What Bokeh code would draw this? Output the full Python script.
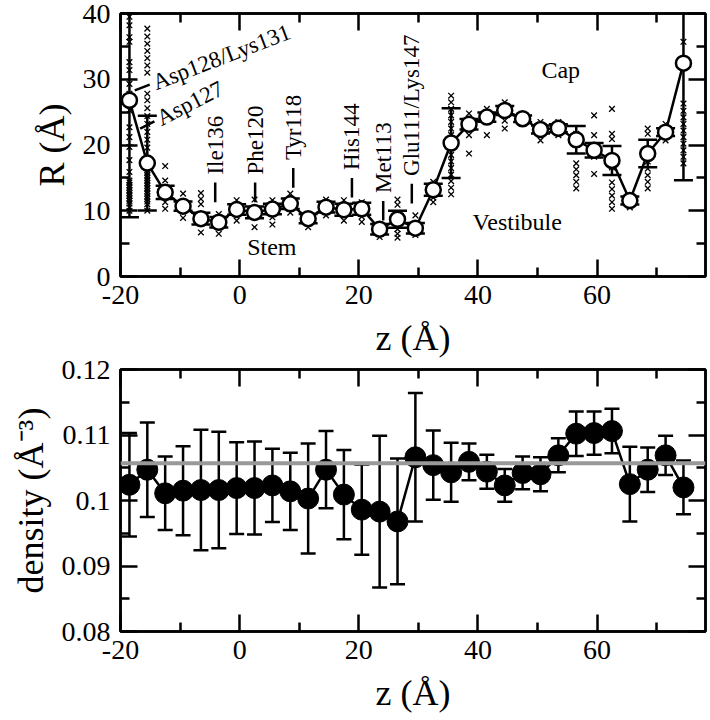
import math
from bokeh.plotting import figure
from bokeh.layouts import column
from bokeh.models import (LinearAxis, FixedTicker, CustomJSTickFormatter, Span,
                          Range1d, ColumnDataSource)
from bokeh.core.properties import value
from bokeh.embed import file_html
from bokeh.resources import INLINE

# ---------------- data ----------------
z = [-18.5, -15.5, -12.5, -9.5, -6.5, -3.5, -0.5, 2.5, 5.5, 8.5, 11.5, 14.5,
     17.5, 20.5, 23.5, 26.5, 29.5, 32.5, 35.5, 38.5, 41.5, 44.5, 47.5, 50.5,
     53.5, 56.5, 59.5, 62.5, 65.5, 68.5, 71.5, 74.5]

R_mean = [26.8, 17.25, 12.8, 10.7, 8.8, 8.25, 10.2, 9.75, 10.25, 11.05, 8.8, 10.55,
          10.15, 10.3, 7.2, 8.7, 7.35, 13.2, 20.3, 23.15, 24.25, 25.25, 24.0, 22.35,
          22.55, 20.8, 19.2, 17.65, 11.55, 18.7, 21.95, 32.45]

R_err = [17.8, 7.2, 1.0, 0.7, 0.9, 0.8, 0.8, 0.9, 0.8, 0.8, 0.7, 0.8,
         0.9, 0.9, 0.8, 1.3, 0.8, 0.9, 5.3, 0.8, 0.7, 0.7, 0.5, 0.6,
         0.6, 2.1, 1.1, 2.2, 0.6, 2.1, 0.6, 17.8]

# individual radius samples (x markers) per z bin
R_samples = [
    [10.0, 10.5, 11.1, 11.5, 11.9, 12.3, 12.7, 13.1, 13.5, 13.9, 14.3, 14.6, 15.9, 17.7,
     19.7, 21.2, 22.7, 25.3, 26.3, 27.8, 29.3, 31.4, 32.6, 35.7, 36.4, 38.2, 39.5],
    [10.0, 11.0, 11.4, 11.8, 12.2, 12.6, 13.0, 13.4, 13.8, 14.2, 14.6, 15.0, 15.4, 15.8,
     16.2, 16.6, 17.0, 18.0, 19.6, 20.8, 22.0, 23.2, 24.4, 25.6, 26.8, 27.8,
     31.0, 32.1, 33.2, 34.3, 35.4, 36.5, 37.7],
    [10.3, 11.3, 14.6, 16.8],
    [8.9, 9.9, 12.6],
    [6.7, 11.0, 11.8, 12.7],
    [6.5, 9.5],
    [8.5, 11.6],
    [7.5, 11.7],
    [7.9, 9.0, 11.6],
    [9.7, 12.6],
    [7.5, 9.5],
    [9.3, 11.7],
    [8.5, 11.6],
    [8.3, 9.1, 11.3],
    [6.0, 6.9],
    [5.9, 6.5, 7.2, 10.9, 11.7],
    [6.3, 9.3],
    [11.3, 12.0, 14.4],
    [12.5, 13.5, 14.5, 15.5, 16.5, 17.5, 18.5, 19.5, 20.5, 21.5, 22.5, 23.5, 24.5,
     25.5, 26.5, 27.5],
    [18.7, 21.5, 24.8],
    [21.5, 25.5],
    [22.5, 23.7, 26.5],
    [23.7],
    [20.7, 23.5],
    [21.5, 23.5],
    [13.4, 14.4, 15.4, 16.3, 17.2, 21.7],
    [15.6, 18.2, 21.5, 24.5],
    [10.3, 11.3, 12.3, 13.3, 14.3, 16.6, 20.9, 21.7, 25.5],
    [10.5],
    [13.4, 14.4, 15.4, 16.4, 17.5, 21.7, 22.5],
    [20.7, 23.2],
    [17.2, 18.2, 19.2, 20.2, 21.2, 22.2, 23.2, 24.2, 25.2, 26.3, 35.7],
]

density = [0.1024, 0.1047, 0.1011, 0.1015, 0.1016, 0.1016, 0.1019, 0.1019, 0.1023,
           0.1014, 0.1003, 0.1047, 0.1009, 0.0986, 0.0983, 0.0968, 0.1066, 0.1054,
           0.1043, 0.1059, 0.1044, 0.1023, 0.1042, 0.1040, 0.1069, 0.1102, 0.1103,
           0.1106, 0.1025, 0.1047, 0.1069, 0.1020]

density_err = [0.0079, 0.0072, 0.0056, 0.0068, 0.0092, 0.0089, 0.0070, 0.0071, 0.0056,
               0.0059, 0.0084, 0.0059, 0.0068, 0.0069, 0.0116, 0.0096, 0.0098, 0.0053,
               0.0045, 0.0028, 0.0026, 0.0025, 0.0025, 0.0026, 0.0026, 0.0034, 0.0033,
               0.0034, 0.0057, 0.0034, 0.0030, 0.0041]

density_bulk = 0.1057

residue_labels = ["Ile136", "Phe120", "Tyr118", "His144", "Met113", "Glu111/Lys147"]
pore_labels = ["Asp128/Lys131", "Asp127"]
region_labels = ["Cap", "Vestibule", "Stem"]
x_ticks = [-20, 0, 20, 40, 60]
x_minor = [-10, 10, 30, 50, 70]
R_ticks = [0, 10, 20, 30, 40]
R_minor = [5, 15, 25, 35]
d_ticks = [0.08, 0.09, 0.10, 0.11, 0.12]
d_minor = [0.085, 0.095, 0.105, 0.115]

# ---------------- styling helpers ----------------
SERIF = "Liberation Serif"
TICK_FS = "28px"
LABEL_FS = "36px"
LW = 2.5

fmt_num = CustomJSTickFormatter(code="return String(Math.round(tick*100)/100);")
fmt_none = CustomJSTickFormatter(code="return '';")


def style_axis(ax, ticks, minor, show_labels):
    ax.ticker = FixedTicker(ticks=ticks, minor_ticks=minor)
    ax.axis_line_color = "black"
    ax.axis_line_width = LW
    ax.major_tick_line_color = "black"
    ax.major_tick_line_width = LW
    ax.minor_tick_line_color = "black"
    ax.minor_tick_line_width = LW
    ax.major_tick_in = 17
    ax.major_tick_out = 0
    ax.minor_tick_in = 9
    ax.minor_tick_out = 0
    ax.major_label_text_font = SERIF
    ax.major_label_text_color = "black"
    ax.axis_label_text_font = SERIF
    ax.axis_label_text_font_style = "normal"
    ax.axis_label_text_font_size = LABEL_FS
    ax.axis_label_text_color = "black"
    if show_labels:
        ax.formatter = fmt_num
        ax.major_label_text_font_size = TICK_FS
    else:
        ax.formatter = fmt_none
        ax.major_label_text_font_size = "1px"
        ax.major_label_standoff = 0


def make_fig(y_range, height, top, bottom):
    p = figure(width=708, height=height, x_range=Range1d(-20, 78.2), y_range=y_range,
               output_backend="svg", toolbar_location=None,
               min_border_left=120, min_border_right=3,
               min_border_top=top, min_border_bottom=bottom)
    p.grid.visible = False
    p.outline_line_color = "black"
    p.outline_line_width = LW
    p.background_fill_color = "white"
    p.border_fill_color = "white"
    return p


# ---------------- top panel: radius ----------------
p1 = make_fig(Range1d(0, 40), 360, 13, 84)

xs_s, ys_s = [], []
for zi, vals in zip(z, R_samples):
    for v in vals:
        xs_s.append(zi)
        ys_s.append(v)
p1.scatter(xs_s, ys_s, marker="x", size=8, line_color="black", line_width=1.3)

lo = [m - e for m, e in zip(R_mean, R_err)]
hi = [m + e for m, e in zip(R_mean, R_err)]
p1.segment(x0=z, y0=lo, x1=z, y1=hi, line_color="black", line_width=LW)
p1.scatter(z, lo, marker="dash", size=19, line_color="black", line_width=LW)
p1.scatter(z, hi, marker="dash", size=19, line_color="black", line_width=LW)

p1.line(z, R_mean, line_color="black", line_width=LW)
p1.scatter(z, R_mean, marker="circle", size=15, fill_color="white",
           line_color="black", line_width=LW)

# residue labels (vertical) with leader dashes
lab_x = [-4.1, 2.6, 9.0, 18.85, 24.1, 28.9]
lab_y = [11.3, 11.3, 13.5, 12.0, 8.5, 11.1]
DASH_R = 3.0      # dash length in R units (~20 px)
GAP_R = 1.2
p1.segment(x0=lab_x, y0=lab_y, x1=lab_x, y1=[y + DASH_R for y in lab_y],
           line_color="black", line_width=LW)
p1.text(x=lab_x, y=[y + DASH_R + GAP_R for y in lab_y], text=residue_labels,
        angle=math.pi / 2, text_align="left", text_baseline="middle",
        text_font=value(SERIF), text_font_size="23px", text_color="black")

# slanted labels near the pore entrance
px_per_z = 584.5 / 98.2
px_per_R = 262.7 / 40.0
asp_x = [-17.6, -16.7]
asp_y = [28.3, 22.5]
asp_ang = [math.radians(21), math.radians(27)]
d_len = 16.0
x_end = [x + d_len * math.cos(a) / px_per_z for x, a in zip(asp_x, asp_ang)]
y_end = [y + d_len * math.sin(a) / px_per_R for y, a in zip(asp_y, asp_ang)]
p1.segment(x0=asp_x, y0=asp_y, x1=x_end, y1=y_end, line_color="black", line_width=LW)
x_txt = [x + (d_len + 4) * math.cos(a) / px_per_z for x, a in zip(asp_x, asp_ang)]
y_txt = [y + (d_len + 4) * math.sin(a) / px_per_R for y, a in zip(asp_y, asp_ang)]
p1.text(x=x_txt, y=y_txt, text=pore_labels, angle=asp_ang,
        text_align="left", text_baseline="middle", text_font=value(SERIF),
        text_font_size="23px", text_color="black")

p1.text(x=[53.9, 46.6, 5.4], y=[31.4, 8.3, 4.5], text=region_labels,
        text_align="center", text_baseline="middle", text_font=value(SERIF),
        text_font_size="24px", text_color="black")

style_axis(p1.xaxis[0], x_ticks, x_minor, True)
style_axis(p1.yaxis[0], R_ticks, R_minor, True)
p1.xaxis[0].axis_label = "z (Å)"
p1.yaxis[0].axis_label = "R (Å)"
p1.xaxis[0].major_label_standoff = 9
p1.xaxis[0].axis_label_standoff = 11
p1.yaxis[0].major_label_standoff = 10
p1.yaxis[0].axis_label_standoff = 8
ax_t = LinearAxis()
style_axis(ax_t, x_ticks, x_minor, False)
p1.add_layout(ax_t, "above")
ax_r = LinearAxis()
style_axis(ax_r, R_ticks, R_minor, False)
p1.add_layout(ax_r, "right")

# ---------------- bottom panel: density ----------------
p2 = make_fig(Range1d(0.08, 0.12), 360, 9, 89)

dlo = [m - e for m, e in zip(density, density_err)]
dhi = [m + e for m, e in zip(density, density_err)]
p2.segment(x0=z, y0=dlo, x1=z, y1=dhi, line_color="black", line_width=LW)
p2.scatter(z, dlo, marker="dash", size=15, line_color="black", line_width=LW)
p2.scatter(z, dhi, marker="dash", size=15, line_color="black", line_width=LW)
p2.line(z, density, line_color="black", line_width=LW)
p2.scatter(z, density, marker="circle", size=21, fill_color="black",
           line_color="black", line_width=1)
p2.add_layout(Span(location=density_bulk, dimension="width",
                   line_color="#999999", line_width=4))

style_axis(p2.xaxis[0], x_ticks, x_minor, True)
style_axis(p2.yaxis[0], d_ticks, d_minor, True)
p2.xaxis[0].axis_label = "z (Å)"
p2.yaxis[0].axis_label = "density (Å⁻³)"
p2.xaxis[0].major_label_standoff = 9
p2.xaxis[0].axis_label_standoff = 11
p2.yaxis[0].major_label_standoff = 10
p2.yaxis[0].axis_label_standoff = 8
ax_t2 = LinearAxis()
style_axis(ax_t2, x_ticks, x_minor, False)
p2.add_layout(ax_t2, "above")
ax_r2 = LinearAxis()
style_axis(ax_r2, d_ticks, d_minor, False)
p2.add_layout(ax_r2, "right")

layout = column(p1, p2, spacing=0)
open("out.html", "w").write(file_html(layout, INLINE))
